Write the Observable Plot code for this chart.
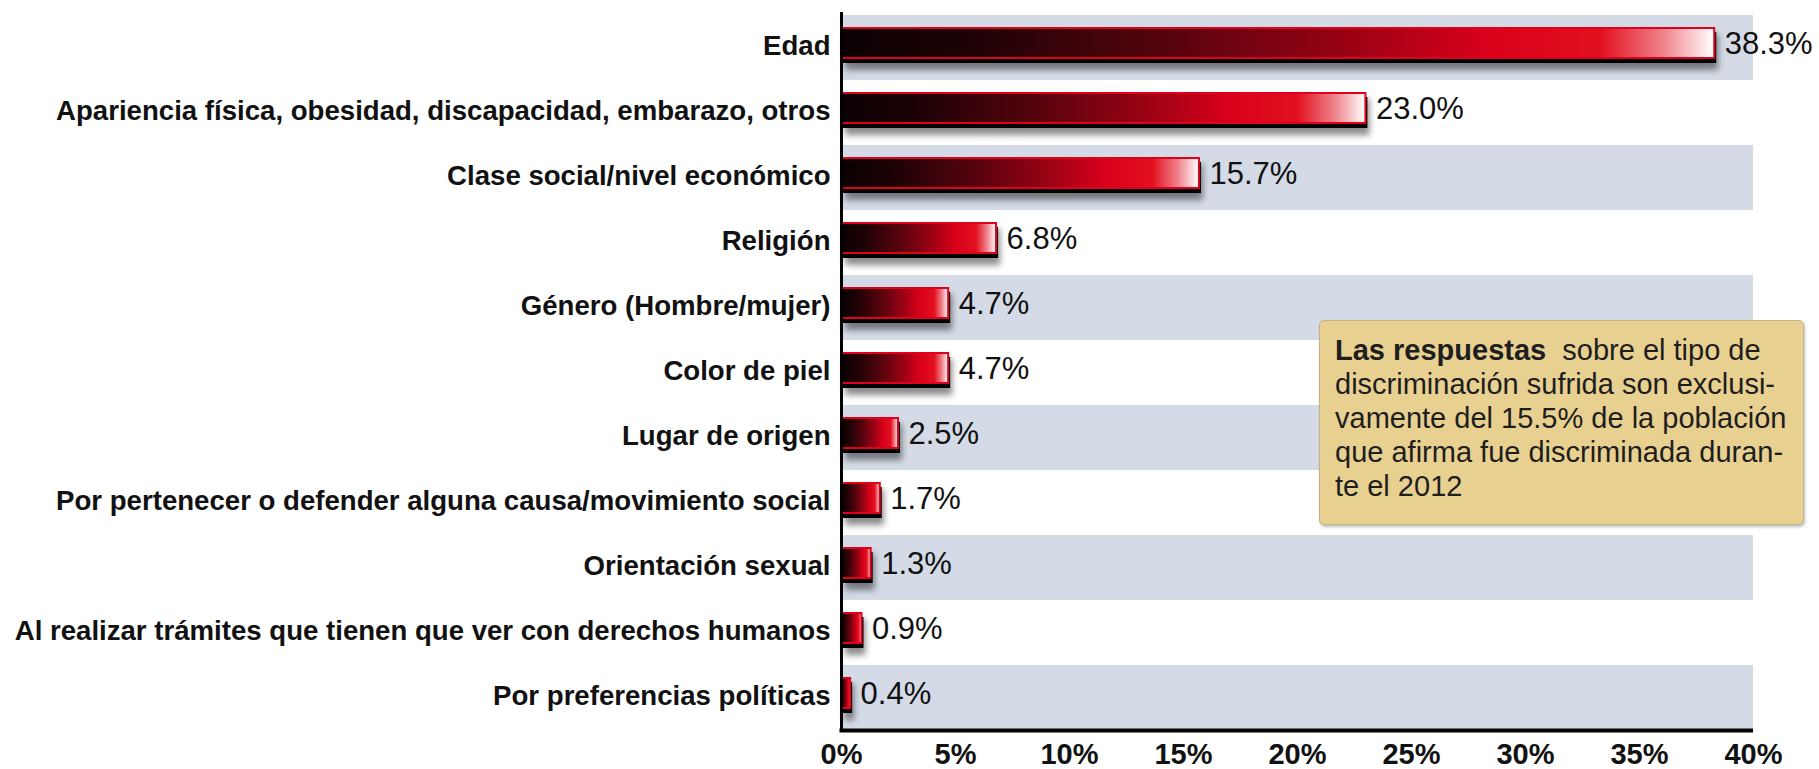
<!DOCTYPE html>
<html>
<head>
<meta charset="utf-8">
<script src="https://cdn.jsdelivr.net/npm/d3@7"></script>
<script src="https://cdn.jsdelivr.net/npm/@observablehq/plot@0.6"></script>
<style>
  html, body { margin: 0; padding: 0; background: #fff; }
  #wrap { position: relative; width: 1819px; height: 769px; }
  #note {
    position: absolute; left: 1319px; top: 320px; width: 485px; height: 205px;
    box-sizing: border-box; background: #e8d091; border: 1px solid #c4b38a;
    border-radius: 5px; box-shadow: 1px 2px 3px rgba(0,0,0,0.25);
    font-family: "Liberation Sans", Arial, sans-serif; font-size: 29px; line-height: 34px;
    color: #1e1e1e; padding: 12px 6px 0 15px; white-space: pre;
  }
</style>
</head>
<body>
<div id="wrap"></div>
<script>
const categories = [
  "Edad",
  "Apariencia física, obesidad, discapacidad, embarazo, otros",
  "Clase social/nivel económico",
  "Religión",
  "Género (Hombre/mujer)",
  "Color de piel",
  "Lugar de origen",
  "Por pertenecer o defender alguna causa/movimiento social",
  "Orientación sexual",
  "Al realizar trámites que tienen que ver con derechos humanos",
  "Por preferencias políticas"
];
const values = [38.3, 23.0, 15.7, 6.8, 4.7, 4.7, 2.5, 1.7, 1.3, 0.9, 0.4];
const xTicks = [0, 5, 10, 15, 20, 25, 30, 35, 40];
const noteBold = "Las respuestas";
const noteLines = [
  "  sobre el tipo de",
  "discriminación sufrida son exclusi-",
  "vamente del 15.5% de la población",
  "que afirma fue discriminada duran-",
  "te el 2012"
];

const data = categories.map((c, i) => ({category: c, value: values[i]}));
const bands = categories.filter((c, i) => i % 2 === 0).map(c => ({category: c, x1: 0, x2: 40}));

const defs = () => {
  const s = d3.create("svg:defs");
  const g = s.append("linearGradient").attr("id", "barGrad").attr("x1", 0).attr("x2", 1).attr("y1", 0).attr("y2", 0);
  [[0, "#0a0002"], [0.15, "#1e0205"], [0.38, "#58030d"], [0.58, "#9a0214"], [0.74, "#d8001a"], [0.87, "#e2101f"], [0.94, "#ef8088"], [1, "#ffffff"]]
    .forEach(([o, c]) => g.append("stop").attr("offset", o).attr("stop-color", c));
  const f = s.append("filter").attr("id", "soft").attr("x", "-20%").attr("y", "-50%").attr("width", "160%").attr("height", "250%");
  f.append("feGaussianBlur").attr("stdDeviation", 3);
  return s.node();
};

const chart = Plot.plot({
  width: 1819,
  height: 769,
  marginLeft: 841,
  marginRight: 66,
  marginTop: 14,
  marginBottom: 39,
  style: {fontFamily: "'Liberation Sans', Arial, sans-serif", background: "#fff"},
  x: {domain: [0, 40], ticks: xTicks, tickFormat: d => d + "%"},
  y: {domain: categories, padding: 0, label: null},
  marks: [
    defs,
    Plot.barX(bands, {x1: "x1", x2: "x2", y: "category", fill: "#d4dbe6"}),
    Plot.barX(data, {x: "value", y: "category", fill: "#000", fillOpacity: 0.45, insetTop: 15, insetBottom: 14, dx: 4, dy: 4}),
    Plot.barX(data, {x: "value", y: "category", fill: "#000", insetTop: 14, insetBottom: 20, dx: 2, dy: 3}),
    Plot.barX(data, {x: "value", y: "category", fill: "url(#barGrad)", stroke: "#e0001b", strokeWidth: 2, insetTop: 13, insetBottom: 22}),
    Plot.text(data, {x: "value", y: "category", text: d => d.value.toFixed(1) + "%", textAnchor: "start", dx: 10, dy: -4, fontSize: 31, fill: "#111"}),
    Plot.ruleX([0], {stroke: "#000", strokeWidth: 3, insetTop: -2, insetBottom: -2}),
    Plot.axisX({ticks: xTicks, tickFormat: d => d + "%", tickSize: 0, tickPadding: 13, fontSize: 29, fontWeight: "bold", fill: "#111", label: null}),
    Plot.axisY({tickSize: 0, tickPadding: 11, fontSize: 27.6, fontWeight: "bold", fill: "#111", dy: -2, label: null})
  ]
});

const wrap = document.getElementById("wrap");
wrap.appendChild(chart);

const svg = d3.select(chart);
const barGroups = svg.selectAll('g[aria-label="bar"]').nodes();
if (barGroups[1]) barGroups[1].setAttribute("filter", "url(#soft)");

// x-axis baseline, placed with the chart's own scales
const xs = chart.scale("x"), ys = chart.scale("y");
const last = categories[categories.length - 1];
const yBottom = ys.apply(last) + (ys.bandwidth || 0);
svg.append("line")
  .attr("x1", xs.apply(0) - 1.5).attr("x2", xs.apply(40))
  .attr("y1", yBottom + 0.5).attr("y2", yBottom + 0.5)
  .attr("stroke", "#000").attr("stroke-width", 4);

const note = document.createElement("div");
note.id = "note";
const b = document.createElement("b");
b.textContent = noteBold;
note.appendChild(b);
note.appendChild(document.createTextNode(noteLines.join("\n")));
wrap.appendChild(note);
</script>
</body>
</html>
